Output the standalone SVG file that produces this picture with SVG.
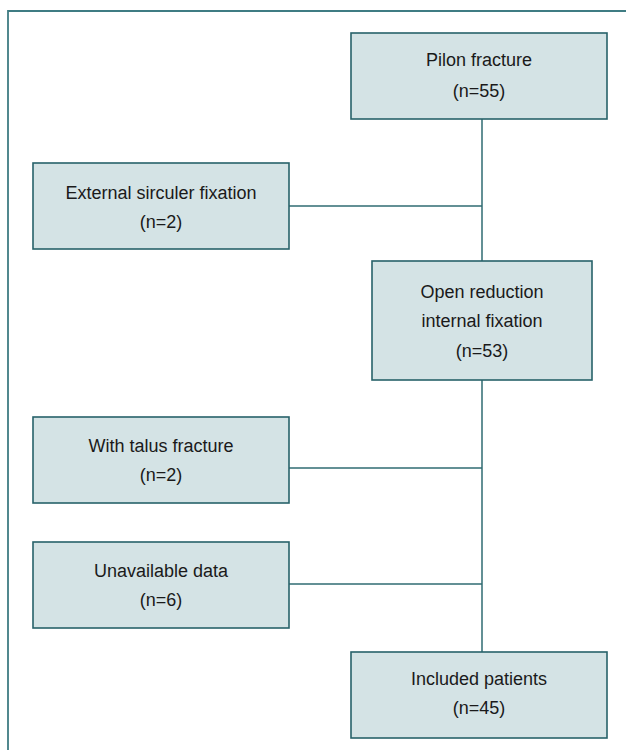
<svg xmlns="http://www.w3.org/2000/svg" width="626" height="750" viewBox="0 0 626 750">
<style>
.box{fill:#d4e3e5;stroke:#27626a;stroke-width:1.6}
.lbl{font-family:"Liberation Sans",Arial,sans-serif;font-size:18px;fill:#1a1a1a;text-anchor:middle}
.conn{stroke:#2f6b72;stroke-width:1.5;fill:none}
.frame{stroke:#3f7c83;stroke-width:1.8;fill:none}
</style>
<rect x="0" y="0" width="626" height="750" fill="#ffffff"/>
<path class="frame" d="M8,750 V11 H626"/>
<g id="connectors">
<path class="conn" d="M482,119 V261"/>
<path class="conn" d="M482,380 V652"/>
<path class="conn" d="M289,206 H482"/>
<path class="conn" d="M289,468 H482"/>
<path class="conn" d="M289,584 H482"/>
</g>
<g id="pilon">
<rect class="box" x="351" y="33" width="256" height="86"/>
<text class="lbl" x="479" y="66">Pilon fracture</text>
<text class="lbl" x="479" y="97">(n=55)</text>
</g>
<g id="external">
<rect class="box" x="33" y="163" width="256" height="86"/>
<text class="lbl" x="161" y="199">External sirculer fixation</text>
<text class="lbl" x="161" y="228">(n=2)</text>
</g>
<g id="orif">
<rect class="box" x="372" y="261" width="220" height="119"/>
<text class="lbl" x="482" y="298">Open reduction</text>
<text class="lbl" x="482" y="327">internal fixation</text>
<text class="lbl" x="482" y="357">(n=53)</text>
</g>
<g id="talus">
<rect class="box" x="33" y="417" width="256" height="86"/>
<text class="lbl" x="161" y="452">With talus fracture</text>
<text class="lbl" x="161" y="481">(n=2)</text>
</g>
<g id="unavailable">
<rect class="box" x="33" y="542" width="256" height="86"/>
<text class="lbl" x="161" y="577">Unavailable data</text>
<text class="lbl" x="161" y="606">(n=6)</text>
</g>
<g id="included">
<rect class="box" x="351" y="652" width="256" height="86"/>
<text class="lbl" x="479" y="685">Included patients</text>
<text class="lbl" x="479" y="714">(n=45)</text>
</g>
</svg>
